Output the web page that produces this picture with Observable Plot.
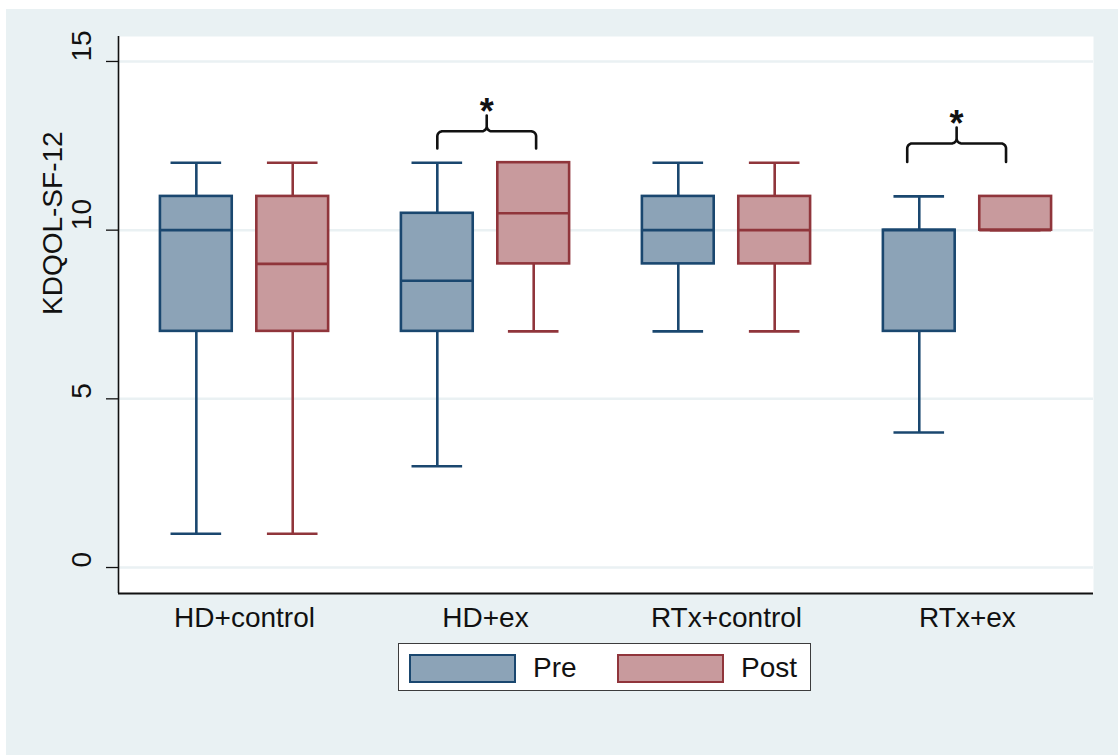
<!DOCTYPE html>
<html>
<head>
<meta charset="utf-8">
<script src="https://cdn.jsdelivr.net/npm/d3@7"></script>
<script src="https://cdn.jsdelivr.net/npm/@observablehq/plot@0.6"></script>
<style>
  html, body { margin: 0; padding: 0; background: #ffffff; }
  #wrap { position: absolute; left: 6px; top: 9px; width: 1112px; height: 746px; background: #e9f1f3;
          font-family: "Liberation Sans", Arial, sans-serif; }
  #legend { position: absolute; left: 392px; top: 634px; width: 411px; height: 46px;
            background: #ffffff; border: 1.5px solid #3c3c3c; }
  .sw { position: absolute; top: 10px; width: 103px; height: 25px; border: 2.5px solid; }
  .lt { position: absolute; top: 0; height: 46px; line-height: 48px; font-size: 28px; color: #111; }
</style>
</head>
<body>
<div id="wrap"><div id="chart"></div><div id="legend"></div></div>
<script>
// ---- data ----
const groups = ["HD+control", "HD+ex", "RTx+control", "RTx+ex"];
const series = ["Pre", "Post"];
const preMin = [1, 3, 7, 4];
const preQ1  = [7, 7, 9, 7];
const preMed = [10, 8.5, 10, 10];
const preQ3  = [11, 10.5, 11, 10];
const preMax = [12, 12, 12, 11];
const postMin = [1, 7, 7, 10];
const postQ1  = [7, 9, 9, 10];
const postMed = [9, 10.5, 10, 10];
const postQ3  = [11, 12, 11, 11];
const postMax = [12, 12, 12, 11];
const yTicks = [0, 5, 10, 15];
const yLabel = "KDQOL-SF-12";
// significance brackets (data units)
const bracketLeft  = [0.80, 2.75];
const bracketRight = [1.21, 3.16];
const bracketFoot  = [12.42, 12.02];
const bracketBar   = [12.93, 12.57];
const bracketTip   = [13.40, 13.04];
const bracketLabel = ["*", "*"];

// ---- styling ----
const strokeCol = {Pre: "#1a476f", Post: "#90353b"};
const fillCol = {Pre: "#8ca3b7", Post: "#c89a9d"};
const offset = {Pre: -0.2, Post: 0.2};
const halfBox = 0.149, halfCap = 0.105;
const xDomain = [-0.523, 3.523];
const yDomain = [-0.77, 15.74];
const lw = 2.6;

const stats = {
  Pre: {min: preMin, q1: preQ1, med: preMed, q3: preQ3, max: preMax},
  Post: {min: postMin, q1: postQ1, med: postMed, q3: postQ3, max: postMax}
};
const rows = [];
groups.forEach((g, i) => series.forEach(s => {
  const st = stats[s];
  rows.push({group: g, series: s, x: i + offset[s], min: st.min[i], q1: st.q1[i], med: st.med[i], q3: st.q3[i], max: st.max[i]});
}));

// brace paths
const rx = 0.021, ry = 0.148;
function arc(cx, cy, a0, a1, id, out) {
  const n = 8;
  for (let k = 0; k <= n; k++) {
    const a = (a0 + (a1 - a0) * k / n) * Math.PI / 180;
    out.push({id, x: cx + rx * Math.cos(a), y: cy + ry * Math.sin(a)});
  }
}
const bracePts = [];
bracketLeft.forEach((xl, b) => {
  const xr = bracketRight[b], xc = (xl + xr) / 2;
  const foot = bracketFoot[b], bar = bracketBar[b], tip = bracketTip[b];
  bracePts.push({id: b, x: xl, y: foot});
  arc(xl + rx, bar - ry, 180, 90, b, bracePts);
  arc(xc - rx, bar + ry, -90, 0, b, bracePts);
  bracePts.push({id: b, x: xc, y: tip});
  arc(xc + rx, bar + ry, 180, 270, b, bracePts);
  arc(xr - rx, bar - ry, 90, 0, b, bracePts);
  bracePts.push({id: b, x: xr, y: foot});
});
const stars = bracketLeft.map((xl, b) => ({x: (xl + bracketRight[b]) / 2, y: bracketTip[b], t: bracketLabel[b]}));

const font = '"Liberation Sans", Arial, sans-serif';
const chart = Plot.plot({
  width: 1112,
  height: 630,
  marginLeft: 112,
  marginRight: 25,
  marginTop: 27,
  marginBottom: 46,
  style: {background: "transparent", fontFamily: font, fontSize: "28px", overflow: "visible"},
  x: {domain: xDomain, axis: null},
  y: {domain: yDomain, axis: null},
  marks: [
    Plot.frame({fill: "white", stroke: null}),
    Plot.ruleY(yTicks, {stroke: "#eaf1f3", strokeWidth: 2.5}),
    // whiskers
    Plot.ruleX(rows, {x: "x", y1: "q3", y2: "max", stroke: d => strokeCol[d.series], strokeWidth: lw}),
    Plot.ruleX(rows, {x: "x", y1: "min", y2: "q1", stroke: d => strokeCol[d.series], strokeWidth: lw}),
    Plot.ruleY(rows, {y: "max", x1: d => d.x - halfCap, x2: d => d.x + halfCap, stroke: d => strokeCol[d.series], strokeWidth: lw}),
    Plot.ruleY(rows, {y: "min", x1: d => d.x - halfCap, x2: d => d.x + halfCap, stroke: d => strokeCol[d.series], strokeWidth: lw}),
    // boxes
    Plot.rect(rows, {x1: d => d.x - halfBox, x2: d => d.x + halfBox, y1: "q1", y2: "q3",
      fill: d => fillCol[d.series], stroke: d => strokeCol[d.series], strokeWidth: lw}),
    Plot.ruleY(rows, {y: "med", x1: d => d.x - halfBox, x2: d => d.x + halfBox, stroke: d => strokeCol[d.series], strokeWidth: lw}),
    // axes
    Plot.ruleX([xDomain[0]], {stroke: "#111", strokeWidth: 1.6}),
    Plot.ruleY([yDomain[0]], {stroke: "#111", strokeWidth: 2}),
    Plot.axisY(yTicks, {tickSize: 12, tickFormat: () => "", label: null, stroke: "#111", strokeWidth: 1.3}),
    Plot.text(yTicks, {y: d => d, text: d => String(d), frameAnchor: "left", dx: -36, rotate: -90, fill: "#111"}),
    Plot.text([yLabel], {frameAnchor: "left", dx: -65, rotate: -90, fill: "#111"}),
    Plot.text(groups, {x: (d, i) => i, text: d => d, frameAnchor: "bottom", dy: 33, fill: "#111"}),
    // brackets
    Plot.line(bracePts, {x: "x", y: "y", z: "id", stroke: "#111", strokeWidth: 2.6, curve: "linear"}),
    Plot.text(stars, {x: "x", y: "y", text: "t", fontSize: 36, fontWeight: "bold", dy: -3, fill: "#111"})
  ]
});
document.getElementById("chart").appendChild(chart);

// legend
const legend = document.getElementById("legend");
const swLeft = [10, 218], txtLeft = [134, 342];
series.forEach((s, i) => {
  const sw = document.createElement("div");
  sw.className = "sw";
  sw.style.left = swLeft[i] + "px";
  sw.style.background = fillCol[s];
  sw.style.borderColor = strokeCol[s];
  legend.appendChild(sw);
  const t = document.createElement("div");
  t.className = "lt";
  t.style.left = txtLeft[i] + "px";
  t.textContent = s;
  legend.appendChild(t);
});
</script>
</body>
</html>
